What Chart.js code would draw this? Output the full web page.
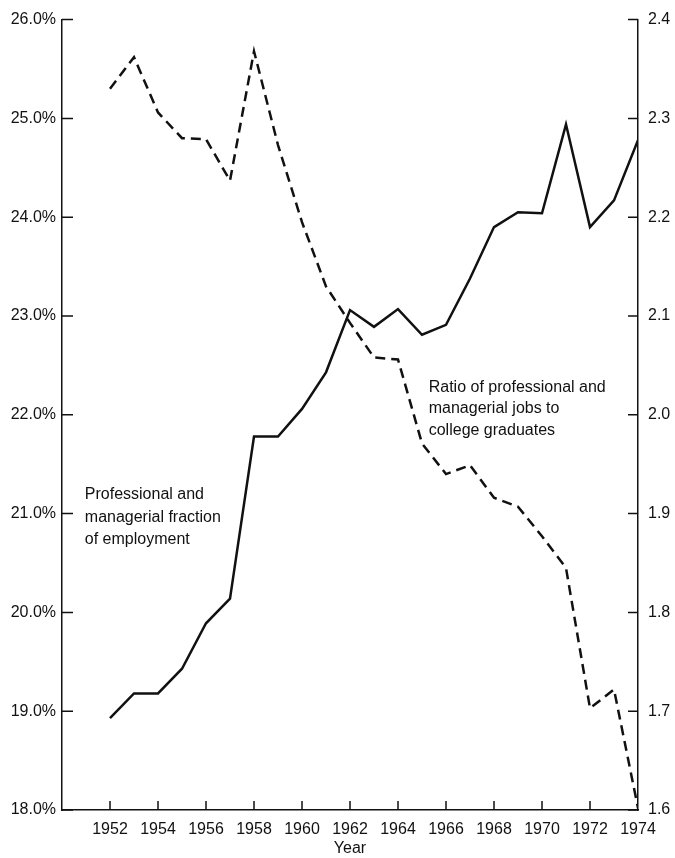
<!DOCTYPE html>
<html>
<head>
<meta charset="utf-8">
<title>Professional and managerial jobs</title>
<script src="https://cdn.jsdelivr.net/npm/chart.js@4/dist/chart.umd.min.js"></script>
<style>
  html, body { margin: 0; padding: 0; background: #fff; }
  #grafico { display: block; }
</style>
</head>
<body>
<canvas id="grafico" width="675" height="858"></canvas>
<script>
// datos
const years = [1952, 1953, 1954, 1955, 1956, 1957, 1958, 1959, 1960, 1961, 1962, 1963,
               1964, 1965, 1966, 1967, 1968, 1969, 1970, 1971, 1972, 1973, 1974];
const mgmtShare = [18.93, 19.18, 19.18, 19.43, 19.89, 20.14, 21.78, 21.78, 22.06, 22.43, 23.06, 22.89,
                   23.07, 22.81, 22.91, 23.38, 23.90, 24.05, 24.04, 24.94, 23.90, 24.17, 24.78];
const jobsRatio = [2.330, 2.362, 2.306, 2.280, 2.279, 2.237, 2.368, 2.273, 2.195, 2.130, 2.093, 2.058,
                   2.056, 1.971, 1.940, 1.949, 1.916, 1.907, 1.877, 1.845, 1.703, 1.722, 1.602];
const tickYears = [1952, 1954, 1956, 1958, 1960, 1962, 1964, 1966, 1968, 1970, 1972, 1974];
const shareNote = ['Professional and', 'managerial fraction', 'of employment'];
const ratioNote = ['Ratio of professional and', 'managerial jobs to', 'college graduates'];

const ink = '#111';
Chart.defaults.font.family = '"Liberation Sans", Arial, sans-serif';
Chart.defaults.font.size = 16;
Chart.defaults.color = ink;

// marcas hacia dentro del eje
const inwardTicks = {
    id: 'inwardTicks',
    afterDraw(chart) {
        const { ctx, chartArea: a, scales } = chart;
        ctx.save();
        ctx.strokeStyle = ink;
        ctx.lineWidth = 1.5;
        ctx.beginPath();
        scales.y.ticks.forEach(t => {
            const p = scales.y.getPixelForValue(t.value);
            ctx.moveTo(a.left, p); ctx.lineTo(a.left + 11, p);
        });
        scales.y2.ticks.forEach(t => {
            const p = scales.y2.getPixelForValue(t.value);
            ctx.moveTo(a.right, p); ctx.lineTo(a.right - 10, p);
        });
        scales.x.ticks.forEach(t => {
            const p = scales.x.getPixelForValue(t.value);
            if (p < a.right - 2) { ctx.moveTo(p, a.bottom); ctx.lineTo(p, a.bottom - 9); }
        });
        ctx.stroke();
        ctx.restore();
    }
};

// textos de las series
const notes = {
    id: 'notes',
    afterDraw(chart) {
        const { ctx, scales } = chart;
        ctx.save();
        ctx.fillStyle = ink;
        ctx.font = '16px "Liberation Sans", Arial, sans-serif';
        ctx.textBaseline = 'middle';
        const x1 = scales.x.getPixelForValue(1950.95);
        const y1 = scales.y.getPixelForValue(21.19);
        shareNote.forEach((t, i) => ctx.fillText(t, x1, y1 + i * 22.5));
        const x2 = scales.x.getPixelForValue(1965.28);
        const y2 = scales.y.getPixelForValue(22.28);
        ratioNote.forEach((t, i) => ctx.fillText(t, x2, y2 + i * 21.5));
        ctx.restore();
    }
};

const ctx = document.getElementById('grafico');

new Chart(ctx, {
    type: 'line',
    data: {
        datasets: [
            {
                label: 'Professional and managerial fraction of employment',
                data: years.map((y, i) => ({ x: y, y: mgmtShare[i] })),
                yAxisID: 'y',
                borderColor: ink,
                borderWidth: 2.5,
                pointRadius: 0,
                tension: 0
            },
            {
                label: 'Ratio of professional and managerial jobs to college graduates',
                data: years.map((y, i) => ({ x: y, y: jobsRatio[i] })),
                yAxisID: 'y2',
                borderColor: ink,
                borderWidth: 2.5,
                borderDash: [10, 6],
                pointRadius: 0,
                tension: 0
            }
        ]
    },
    options: {
        responsive: false,
        animation: false,
        devicePixelRatio: 1,
        layout: { padding: { top: 15, left: 0, right: 0, bottom: 0 } },
        plugins: {
            legend: { display: false },
            tooltip: { enabled: false }
        },
        scales: {
            x: {
                type: 'linear',
                min: 1950,
                max: 1974,
                afterBuildTicks: s => { s.ticks = tickYears.map(v => ({ value: v })); },
                afterFit: s => { s.height = 48; },
                grid: { drawOnChartArea: false, drawTicks: false },
                border: { color: ink, width: 1.5 },
                ticks: { padding: 10, maxRotation: 0, autoSkip: false, callback: v => String(v) },
                title: { display: true, text: 'Year', padding: 0, font: { size: 16 } }
            },
            y: {
                position: 'left',
                min: 18,
                max: 26,
                afterFit: s => { s.width = 62; },
                grid: { drawOnChartArea: false, drawTicks: false },
                border: { color: ink, width: 1.5 },
                ticks: { stepSize: 1, padding: 6, callback: v => v.toFixed(1) + '%' }
            },
            y2: {
                position: 'right',
                min: 1.6,
                max: 2.4,
                afterFit: s => { s.width = 37; },
                grid: { drawOnChartArea: false, drawTicks: false },
                border: { color: ink, width: 1.5 },
                ticks: { stepSize: 0.1, padding: 10, callback: v => v.toFixed(1) }
            }
        }
    },
    plugins: [inwardTicks, notes]
});
</script>
</body>
</html>
